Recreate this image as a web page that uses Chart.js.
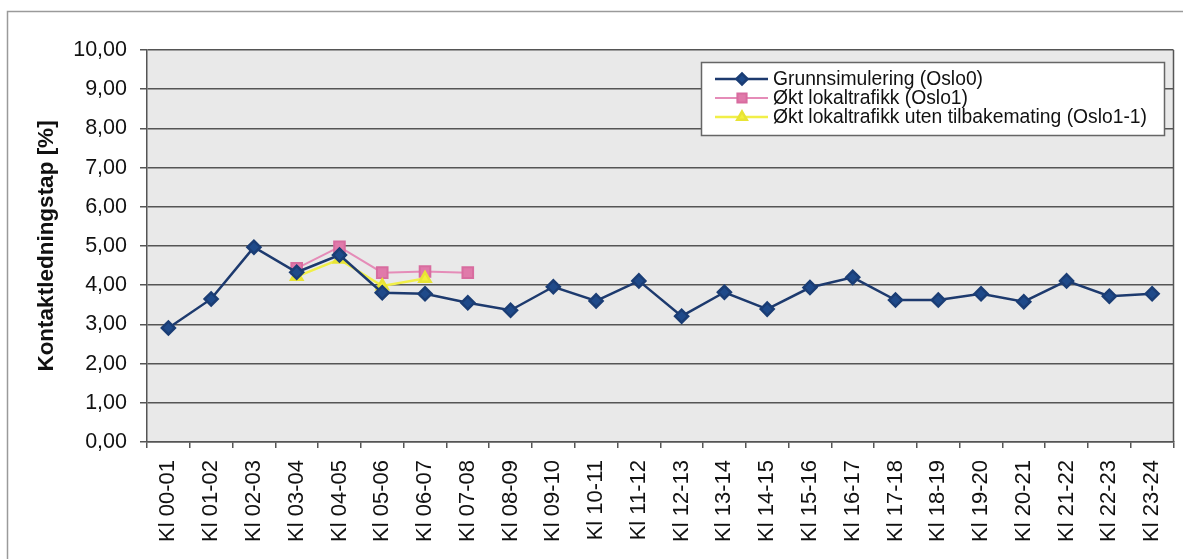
<!DOCTYPE html>
<html>
<head>
<meta charset="utf-8">
<script src="https://cdn.jsdelivr.net/npm/chart.js@4"></script>
<style>
    html, body { margin: 0; padding: 0; background: #fff; }
    #wrap { position: relative; width: 1183px; height: 559px; }
</style>
</head>
<body>
<div id="wrap"><canvas id="tapChart" width="1183" height="559"></canvas></div>
<script>
// ============= Kontaktledningstap per time, tre simuleringer =============

const timer = [
    'Kl 00-01', 'Kl 01-02', 'Kl 02-03', 'Kl 03-04', 'Kl 04-05', 'Kl 05-06',
    'Kl 06-07', 'Kl 07-08', 'Kl 08-09', 'Kl 09-10', 'Kl 10-11', 'Kl 11-12',
    'Kl 12-13', 'Kl 13-14', 'Kl 14-15', 'Kl 15-16', 'Kl 16-17', 'Kl 17-18',
    'Kl 18-19', 'Kl 19-20', 'Kl 20-21', 'Kl 21-22', 'Kl 22-23', 'Kl 23-24'
]

const grunnsimulering = [
    2.91, 3.65, 4.97, 4.33, 4.77, 3.81, 3.78, 3.55, 3.36, 3.96, 3.60, 4.11,
    3.21, 3.82, 3.39, 3.94, 4.20, 3.62, 3.62, 3.78, 3.58, 4.11, 3.72, 3.78
]

const oktLokaltrafikk = [
    null, null, null, 4.43, 4.98, 4.32, 4.35, 4.32, null, null, null, null,
    null, null, null, null, null, null, null, null, null, null, null, null
]

const utenTilbakemating = [
    null, null, null, 4.22, 4.66, 3.98, 4.17, null, null, null, null, null,
    null, null, null, null, null, null, null, null, null, null, null, null
]

const serieNavn = [
    'Grunnsimulering (Oslo0)',
    'Økt lokaltrafikk (Oslo1)',
    'Økt lokaltrafikk uten tilbakemating (Oslo1-1)'
]

const yTicks = [0, 1, 2, 3, 4, 5, 6, 7, 8, 9, 10]

document.addEventListener('DOMContentLoaded', function () {
    const canvas = document.getElementById('tapChart')
    const font = '"Liberation Sans", Arial, sans-serif'

    // ramme rundt hele diagrammet + grå plottflate
    const bakgrunn = {
        id: 'bakgrunn',
        beforeDraw(chart) {
            const { ctx, chartArea } = chart
            ctx.save()
            ctx.fillStyle = '#fff'
            ctx.fillRect(0, 0, chart.width, chart.height)
            ctx.strokeStyle = '#9a9a9a'
            ctx.lineWidth = 1.5
            ctx.beginPath()
            ctx.moveTo(7.5, chart.height + 2)
            ctx.lineTo(7.5, 11.5)
            ctx.lineTo(chart.width + 2, 11.5)
            ctx.stroke()
            ctx.fillStyle = '#e9e9e9'
            ctx.fillRect(chartArea.left, chartArea.top, chartArea.right - chartArea.left, chartArea.bottom - chartArea.top)
            ctx.restore()
        },
        afterDatasetsDraw(chart) {
            const { ctx, chartArea } = chart
            ctx.save()
            ctx.strokeStyle = '#555'
            ctx.lineWidth = 1.5
            ctx.beginPath()
            ctx.moveTo(chartArea.right, chartArea.top)
            ctx.lineTo(chartArea.right, chartArea.bottom)
            ctx.stroke()
            ctx.restore()
        }
    }

    // tegnforklaring inne i plottet, med hvit boks
    const tegnforklaring = {
        id: 'tegnforklaring',
        afterDraw(chart) {
            const { ctx } = chart
            const box = { x: 701, y: 62, w: 463, h: 73 }
            ctx.save()
            ctx.fillStyle = '#fff'
            ctx.fillRect(box.x, box.y, box.w, box.h)
            ctx.strokeStyle = '#666'
            ctx.lineWidth = 1.5
            ctx.strokeRect(box.x + 0.5, box.y + 0.5, box.w, box.h)
            ctx.font = '19.3px ' + font
            ctx.textBaseline = 'middle'
            chart.data.datasets.forEach((ds, i) => {
                const cy = box.y + 17 + i * 19
                ctx.strokeStyle = ds.borderColor
                ctx.lineWidth = ds.borderWidth
                ctx.beginPath()
                ctx.moveTo(715, cy)
                ctx.lineTo(768, cy)
                ctx.stroke()
                ctx.fillStyle = ds.pointBackgroundColor
                ctx.strokeStyle = ds.pointBorderColor
                Chart.helpers.drawPoint(ctx, {
                    pointStyle: ds.pointStyle,
                    radius: ds.pointRadius - 1,
                    rotation: 0,
                    borderWidth: 1
                }, 742, cy)
                ctx.fillStyle = '#111'
                ctx.fillText(ds.label, 773, cy + 1)
            })
            ctx.restore()
        }
    }

    renderChart()

    function renderChart() {
        const ctx = canvas.getContext('2d')
        new Chart(ctx, {
            type: 'line',
            data: {
                labels: timer,
                datasets: [
                    {
                        label: serieNavn[0],
                        data: grunnsimulering,
                        borderColor: '#1d3a6e',
                        borderWidth: 2.5,
                        pointStyle: 'rectRot',
                        pointRadius: 6.5,
                        pointBackgroundColor: '#1f4a8a',
                        pointBorderColor: '#1a3d75',
                        tension: 0,
                        order: 0
                    },
                    {
                        label: serieNavn[1],
                        data: oktLokaltrafikk,
                        borderColor: '#e58cb8',
                        borderWidth: 2,
                        pointStyle: 'rect',
                        pointRadius: 7.5,
                        pointBackgroundColor: '#e07aaa',
                        pointBorderColor: '#d86c9f',
                        tension: 0,
                        order: 2
                    },
                    {
                        label: serieNavn[2],
                        data: utenTilbakemating,
                        borderColor: '#f1ef48',
                        borderWidth: 2.5,
                        pointStyle: 'triangle',
                        pointRadius: 6.5,
                        pointBackgroundColor: '#f3f03c',
                        pointBorderColor: '#e8e434',
                        tension: 0,
                        order: 1
                    }
                ]
            },
            options: {
                responsive: false,
                animation: false,
                layout: { padding: { top: 50, right: 8, left: 0, bottom: 0 } },
                plugins: {
                    legend: { display: false },
                    tooltip: { enabled: false }
                },
                scales: {
                    x: {
                        offset: true,
                        afterFit(scale) {
                            scale.height = 117
                            scale.paddingLeft = 0
                            scale.paddingRight = 0
                        },
                        grid: {
                            offset: true,
                            drawOnChartArea: false,
                            tickLength: 6,
                            color: '#555',
                            lineWidth: 1.5
                        },
                        border: { color: '#555', width: 1.5 },
                        ticks: {
                            autoSkip: false,
                            minRotation: 90,
                            maxRotation: 90,
                            padding: 12,
                            color: '#111',
                            font: { family: font, size: 22 }
                        }
                    },
                    y: {
                        min: 0,
                        max: 10,
                        afterFit(scale) { scale.width = 147 },
                        afterBuildTicks(scale) { scale.ticks = yTicks.map(v => ({ value: v })) },
                        grid: {
                            color: '#555',
                            lineWidth: 1.5,
                            tickLength: 7
                        },
                        border: { color: '#555', width: 1.5 },
                        ticks: {
                            padding: 13,
                            color: '#111',
                            font: { family: font, size: 21.5 },
                            callback: v => v.toFixed(2).replace('.', ',')
                        },
                        title: {
                            display: true,
                            text: 'Kontaktledningstap [%]',
                            color: '#111',
                            padding: { top: 33, bottom: 0 },
                            font: { family: font, size: 22.5, weight: 'bold' }
                        }
                    }
                }
            },
            plugins: [bakgrunn, tegnforklaring]
        })
    }
})
</script>
</body>
</html>
